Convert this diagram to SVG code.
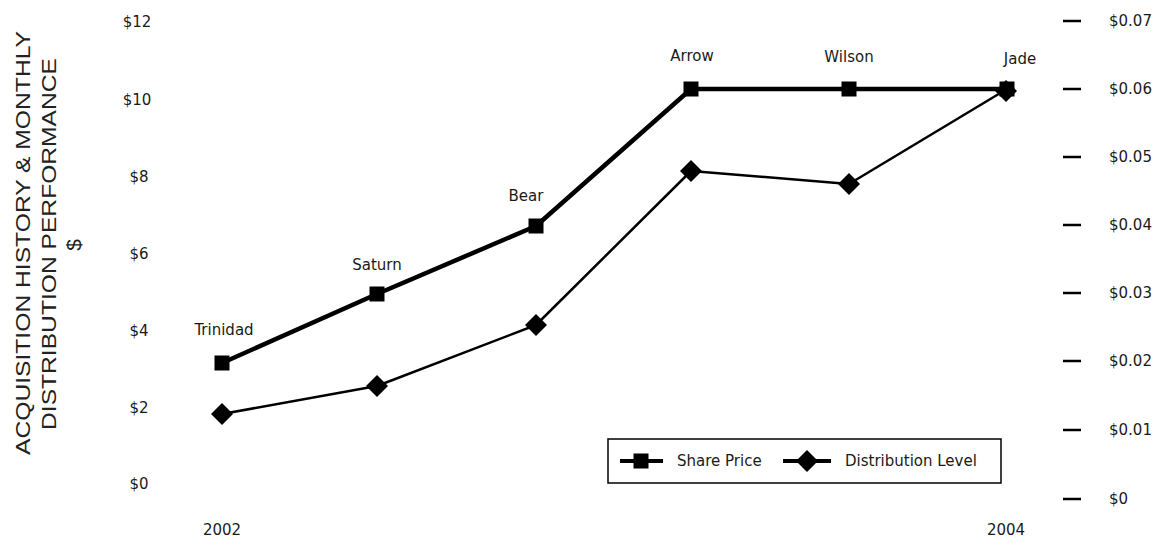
<svg xmlns="http://www.w3.org/2000/svg" width="1160" height="539" viewBox="0 0 1160 539">
<defs>
<style>
text{font-family:"DejaVu Sans","Liberation Sans",sans-serif;fill:#1a1a1a}
.t{font-size:15px}
.ax{font-size:15px;text-anchor:middle}
.ttl{font-family:"Liberation Sans",Arial,sans-serif;font-size:21px;text-anchor:middle;fill:#222}
.sp{fill:none;stroke:#000;stroke-width:4.5;stroke-linejoin:round}
.dl{fill:none;stroke:#000;stroke-width:2.5;stroke-linejoin:round}
.tick{stroke:#000;stroke-width:2.5}
</style>
<rect id="sq" x="-7.5" y="-7.5" width="15" height="15" fill="#000"/>
<polygon id="dm" points="0,-11 11,0 0,11 -11,0" fill="#000"/>
</defs>
<rect width="1160" height="539" fill="#fff"/>
<g id="title">
<text class="ttl" transform="translate(30,243) rotate(-90)" textLength="424" lengthAdjust="spacingAndGlyphs">ACQUISITION HISTORY &amp; MONTHLY</text>
<text class="ttl" transform="translate(56,244) rotate(-90)" textLength="372" lengthAdjust="spacingAndGlyphs">DISTRIBUTION PERFORMANCE</text>
<text class="ttl" transform="translate(81,245) rotate(-90)">$</text>
</g>
<g id="left-axis">
<text class="ax" x="137" y="27">$12</text>
<text class="ax" x="137" y="105">$10</text>
<text class="ax" x="139" y="182">$8</text>
<text class="ax" x="139" y="259">$6</text>
<text class="ax" x="139" y="336">$4</text>
<text class="ax" x="139" y="413">$2</text>
<text class="ax" x="139" y="489">$0</text>
</g>
<g id="right-axis">
<line class="tick" x1="1063" x2="1081" y1="21" y2="21"/>
<line class="tick" x1="1063" x2="1081" y1="89" y2="89"/>
<line class="tick" x1="1063" x2="1081" y1="157" y2="157"/>
<line class="tick" x1="1063" x2="1081" y1="225" y2="225"/>
<line class="tick" x1="1063" x2="1081" y1="293" y2="293"/>
<line class="tick" x1="1063" x2="1081" y1="361" y2="361"/>
<line class="tick" x1="1063" x2="1081" y1="430" y2="430"/>
<line class="tick" x1="1063" x2="1081" y1="499" y2="499"/>
<text class="t" x="1109" y="26">$0.07</text>
<text class="t" x="1109" y="94">$0.06</text>
<text class="t" x="1109" y="162">$0.05</text>
<text class="t" x="1109" y="230">$0.04</text>
<text class="t" x="1109" y="298">$0.03</text>
<text class="t" x="1109" y="366">$0.02</text>
<text class="t" x="1109" y="435">$0.01</text>
<text class="t" x="1109" y="504">$0</text>
</g>
<g id="x-axis">
<text class="ax" x="222" y="535">2002</text>
<text class="ax" x="1006" y="535">2004</text>
</g>
<g id="connectors">
<polyline class="sp" points="222,363 377,294 536,226 691,89 849,89 1007,89"/>
<polyline class="dl" points="222,414 377,386 536,325 691,171 849,184 1007,89"/>
</g>
<g id="share-price">
<use href="#sq" x="222" y="363"/>
<use href="#sq" x="377" y="294"/>
<use href="#sq" x="536" y="226"/>
<use href="#sq" x="691" y="89"/>
<use href="#sq" x="849" y="89"/>
<use href="#sq" x="1007" y="89"/>
</g>
<g id="distribution">
<use href="#dm" x="222" y="414"/>
<use href="#dm" x="377" y="386"/>
<use href="#dm" x="536" y="325"/>
<use href="#dm" x="691" y="171"/>
<use href="#dm" x="849" y="184"/>
<use href="#dm" x="1006" y="91"/>
</g>
<g id="labels">
<text class="ax" x="224" y="335">Trinidad</text>
<text class="ax" x="377" y="270">Saturn</text>
<text class="ax" x="526" y="201">Bear</text>
<text class="ax" x="692" y="61">Arrow</text>
<text class="ax" x="849" y="62">Wilson</text>
<text class="ax" x="1020" y="64">Jade</text>
</g>
<g id="legend">
<rect x="608" y="439" width="393" height="44" fill="#fff" stroke="#000" stroke-width="1.5"/>
<line x1="620" x2="663" y1="461" y2="461" stroke="#000" stroke-width="4"/>
<use href="#sq" x="641" y="461"/>
<text class="t" x="677" y="466">Share Price</text>
<line x1="783" x2="831" y1="461" y2="461" stroke="#000" stroke-width="4"/>
<use href="#dm" x="807" y="461"/>
<text class="t" x="845" y="466">Distribution Level</text>
</g>
</svg>
